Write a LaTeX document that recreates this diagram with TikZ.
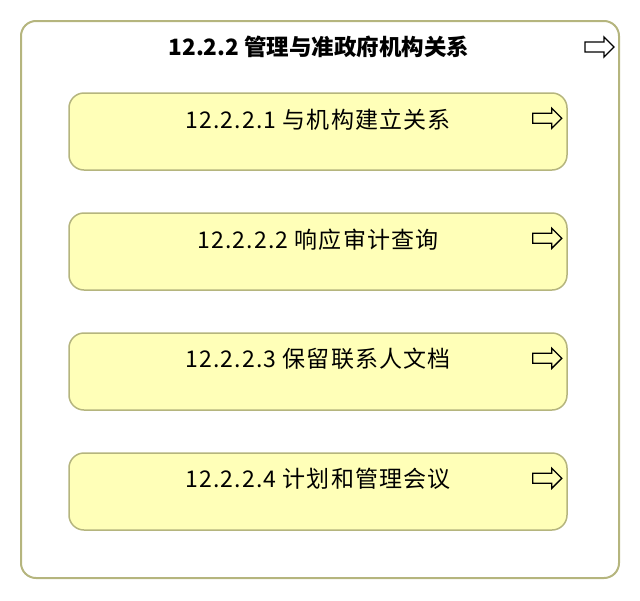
\documentclass[tikz,border=0pt]{standalone}
\usepackage{fontspec}
\newfontfamily\cjk{Noto Sans CJK SC}
\definecolor{boxfill}{HTML}{FFFFB8}
\definecolor{boxline}{HTML}{B5B57E}
\tikzset{
  outerbox/.style={draw=boxline, line width=2pt, rounded corners=15pt, minimum width=598pt, minimum height=557pt, inner sep=0pt},
  itembox/.style={draw=boxline, fill=boxfill, line width=1.5pt, rounded corners=15pt, minimum width=498pt, minimum height=77pt, inner sep=0pt},
  titletext/.style={font=\cjk\bfseries\fontsize{22.5}{26}\selectfont, inner sep=0pt},
  itemtext/.style={font=\cjk\addfontfeatures{LetterSpace=5}\fontsize{23}{27}\selectfont, inner sep=0pt},
  pics/goarrow/.style={code={\draw[line width=1.4pt, line join=miter, fill=none] (0,-5) -- (19,-5) -- (19,-10) -- (29,0) -- (19,10) -- (19,5) -- (0,5) -- cycle;}}
}
\begin{document}
\begin{tikzpicture}[x=1pt,y=-1pt]
\useasboundingbox (0,0) rectangle (640,600);
\node[outerbox] (outer) at (320,299.5) {};
\node[titletext] (title) at (319,47) {12.2.2 管理与准政府机构关系};
\pic at ([xshift=-35pt,yshift=-27pt]outer.north east) {goarrow};
\foreach \i/\y/\t in {1/131.5/{12.2.2.1 与机构建立关系}, 2/251.5/{12.2.2.2 响应审计查询}, 3/371.5/{12.2.2.3 保留联系人文档}, 4/491.5/{12.2.2.4 计划和管理会议}} {
  \node[itembox] (b\i) at (318,\y) {};
  \node[itemtext] (t\i) at ([yshift=-27pt]b\i.north) {\t};
  \pic at ([xshift=-35pt,yshift=-26pt]b\i.north east) {goarrow};
}
\end{tikzpicture}
\end{document}
